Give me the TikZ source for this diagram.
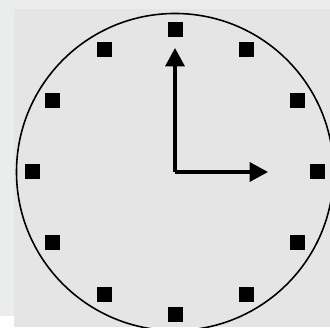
\documentclass[tikz,border=0pt]{standalone}
\usetikzlibrary{arrows.meta}
\definecolor{pageback}{HTML}{EBEDED}
\definecolor{dialback}{HTML}{E5E5E5}
\begin{document}
\begin{tikzpicture}[hand/.style={line width=0.9pt,-{Triangle[length=5.2pt,width=5.4pt]}}]
  \useasboundingbox (-1.75,-1.55) rectangle (1.55,1.72);
  \fill[pageback] (-1.75,-1.44) rectangle (1.55,1.72);
  \fill[pageback] (-1.61,-1.55) rectangle (1.55,-1.44);
  \fill[dialback] (-1.61,-1.55) rectangle (1.55,1.63);
  \draw[line width=0.45pt] (0,0) circle (1.585);
  \foreach \h in {1,...,12}
    \fill ({90-30*\h}:1.42) +(-0.075,-0.075) rectangle +(0.075,0.075);
  \coordinate (centre) at (0,0);
  \coordinate (minute) at (0,1.24);
  \coordinate (hour) at (0.93,0);
  \draw[hand] (centre) -- (minute);
  \draw[hand] (centre) -- (hour);
\end{tikzpicture}
\end{document}
